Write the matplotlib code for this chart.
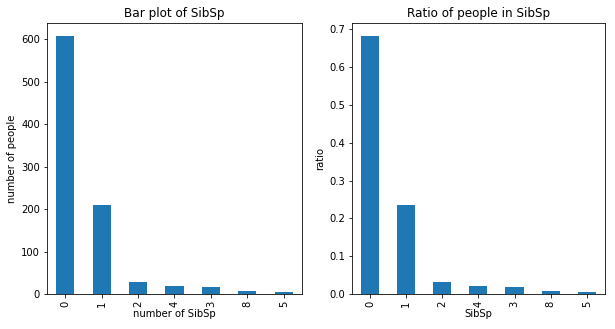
import matplotlib
matplotlib.use("Agg")
import matplotlib.pyplot as plt
import numpy as np

# SibSp value counts (ordered by frequency, as pandas value_counts gives)
categories = ["0", "1", "2", "4", "3", "8", "5"]
counts = [608, 209, 28, 18, 16, 7, 5]
total = 891
ratios = [c / total for c in counts]

fig = plt.figure(figsize=(615 / 72, 329 / 72), dpi=72)
ax1 = fig.add_axes([0.0764, 0.1064, 0.4146, 0.8237])
ax2 = fig.add_axes([0.5724, 0.1064, 0.411, 0.8237])

x = np.arange(len(categories))
color = "#1f77b4"

ax1.bar(x, counts, width=0.5, color=color)
ax1.set_xlim(-0.5, len(categories) - 0.5)
ax1.set_xticks(x)
ax1.set_xticklabels(categories, rotation=90)
ax1.set_title("Bar plot of SibSp")
ax1.set_xlabel("number of SibSp", labelpad=2)
ax1.set_ylabel("number of people")

ax2.bar(x, ratios, width=0.5, color=color)
ax2.set_xlim(-0.5, len(categories) - 0.5)
ax2.set_xticks(x)
ax2.set_xticklabels(categories, rotation=90)
ax2.set_title("Ratio of people in SibSp")
ax2.set_xlabel("SibSp", labelpad=2)
ax2.set_ylabel("ratio")

plt.savefig("out.png", dpi=72)
